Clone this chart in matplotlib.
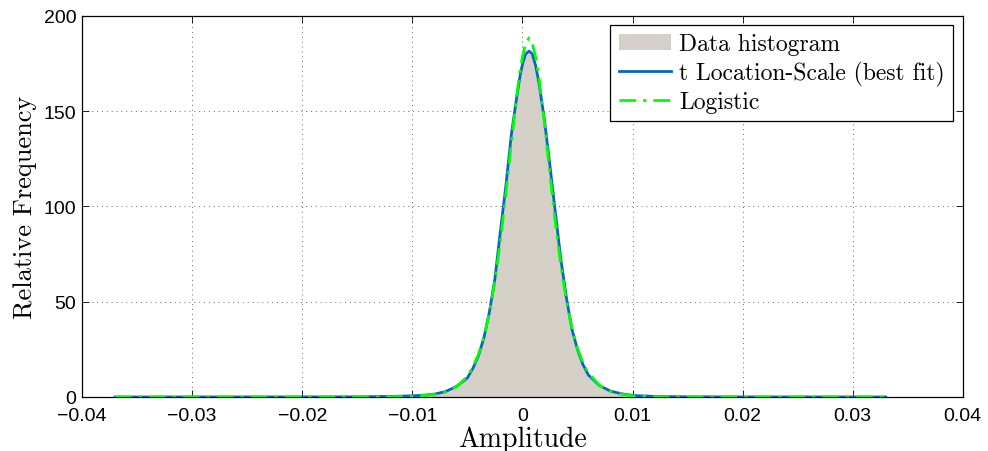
################################ Amplitude fit ################################
'''
Histogram of amplitude values with the fitted t Location-Scale and Logistic
densities drawn over it
'''
import matplotlib.pyplot as plt
############################### Chart values ##################################
# histogram, bin centres and relative frequency
hist_x = [-0.0110, -0.0095, -0.0090, -0.0085, -0.0080, -0.0075, -0.0070,
          -0.0065, -0.0060, -0.0055, -0.0050, -0.0045, -0.0040, -0.0035,
          -0.0030, -0.0025, -0.0020, -0.0015, -0.0010, -0.0005, 0.0000,
          0.0005, 0.0010, 0.0015, 0.0020, 0.0025, 0.0030, 0.0035, 0.0040,
          0.0045, 0.0050, 0.0055, 0.0060, 0.0065, 0.0070, 0.0075, 0.0080,
          0.0085, 0.0090, 0.0095, 0.0100, 0.0120]
hist_y = [0.0, 0.5, 0.7, 1.0, 1.4, 2.0, 2.8, 3.9, 5.5, 7.5, 10.0, 14.5, 21.0,
          31.0, 44.0, 62.0, 87.0, 111.0, 137.0, 158.0, 174.0, 181.0, 178.0,
          165.0, 145.0, 121.0, 96.0, 72.0, 52.0, 35.0, 25.0, 17.0, 11.5, 8.2,
          6.0, 4.2, 3.1, 2.2, 1.6, 1.1, 0.8, 0.0]

# t Location-Scale (best fit)
tls_x = [-0.0370, -0.0200, -0.0150, -0.0120, -0.0100, -0.0090, -0.0080,
         -0.0070, -0.0060, -0.0050, -0.0045, -0.0040, -0.0035, -0.0030,
         -0.0025, -0.0020, -0.0015, -0.0010, -0.0005, -0.0002, 0.0000,
         0.0003, 0.0006, 0.0009, 0.0012, 0.0015, 0.0020, 0.0025, 0.0030,
         0.0035, 0.0040, 0.0045, 0.0050, 0.0055, 0.0060, 0.0070, 0.0080,
         0.0090, 0.0100, 0.0120, 0.0150, 0.0200, 0.0330]
tls_y = [0.0, 0.03, 0.1, 0.3, 0.6, 0.9, 1.5, 2.8, 5.5, 10.0, 15.0, 21.5, 31.0,
         44.5, 62.0, 87.0, 111.0, 138.0, 158.0, 169.0, 174.5, 180.0, 181.6,
         180.0, 174.0, 165.0, 145.5, 121.5, 96.5, 72.0, 52.0, 35.5, 25.0, 17.0,
         11.5, 6.0, 3.1, 1.7, 0.8, 0.3, 0.1, 0.03, 0.0]

# Logistic
log_x = [-0.0370, -0.0200, -0.0150, -0.0120, -0.0100, -0.0090, -0.0080,
         -0.0070, -0.0060, -0.0050, -0.0045, -0.0040, -0.0035, -0.0030,
         -0.0025, -0.0020, -0.0015, -0.0010, -0.0005, -0.0002, 0.0000,
         0.0003, 0.0006, 0.0009, 0.0012, 0.0015, 0.0020, 0.0025, 0.0030,
         0.0035, 0.0040, 0.0045, 0.0050, 0.0055, 0.0060, 0.0070, 0.0080,
         0.0090, 0.0100, 0.0120, 0.0150, 0.0200, 0.0330]
log_y = [0.0, 0.01, 0.05, 0.15, 0.4, 0.8, 1.3, 2.5, 5.2, 10.8, 15.6, 22.3,
         31.5, 44.0, 60.8, 81.7, 106.5, 133.5, 159.0, 172.0, 178.5, 185.6,
         188.5, 185.6, 178.5, 168.0, 144.0, 117.0, 91.0, 68.6, 50.3, 36.2,
         25.6, 18.0, 12.5, 6.0, 2.9, 1.4, 0.6, 0.15, 0.04, 0.01, 0.0]

x_ticks = [-0.04, -0.03, -0.02, -0.01, 0.0, 0.01, 0.02, 0.03, 0.04]
x_tick_labels = ['\u22120.04', '\u22120.03', '\u22120.02', '\u22120.01', '0',
                 '0.01', '0.02', '0.03', '0.04']
y_ticks = [0, 50, 100, 150, 200]
y_tick_labels = ['0', '50', '100', '150', '200']
################################## Plotting ###################################
tick_font = {'family': 'Liberation Sans', 'size': 14}
serif = 'cmr10'

fig = plt.figure(figsize=(9.88, 4.52), dpi=100)
ax = fig.add_axes([0.083, 0.1195, 0.8915, 0.8429])

ax.fill_between(hist_x, hist_y, 0, color='#d4d0c8', linewidth=0,
                label='Data histogram', zorder=2)
ax.plot(tls_x, tls_y, color='#0a64c8', linewidth=2.0,
        label='t Location-Scale (best fit)', zorder=3)
ax.plot(log_x, log_y, color='#00ff00', linewidth=2.0, linestyle='-.',
        dashes=(6, 2.5, 1.2, 2.5), label='Logistic', zorder=4)

ax.set_xlim(-0.04, 0.04)
ax.set_ylim(0, 200)
ax.set_xticks(x_ticks)
ax.set_xticklabels(x_tick_labels, fontdict=tick_font)
ax.set_yticks(y_ticks)
ax.set_yticklabels(y_tick_labels, fontdict=tick_font)
ax.tick_params(direction='in', length=5, width=0.6, top=True, right=True)
ax.tick_params(axis='x', pad=7)
ax.tick_params(axis='y', pad=4)
ax.grid(True, linestyle=(0, (1, 4)), color='#666666', linewidth=0.7)
ax.set_axisbelow(True)
for side in ax.spines.values():
    side.set_linewidth(0.9)

ax.set_xlabel('Amplitude', fontfamily=serif, fontsize=20, labelpad=1)
ax.set_ylabel('Relative Frequency', fontfamily=serif, fontsize=19, labelpad=5)

leg = ax.legend(loc='upper right', bbox_to_anchor=(0.9886, 0.9764),
                borderaxespad=0, prop={'family': serif, 'size': 17},
                fancybox=False, framealpha=1, edgecolor='black',
                handlelength=2.2, handletextpad=0.35, labelspacing=0.22,
                borderpad=0.35)
leg.get_frame().set_linewidth(0.9)

fig.savefig('out.png', dpi=100)
